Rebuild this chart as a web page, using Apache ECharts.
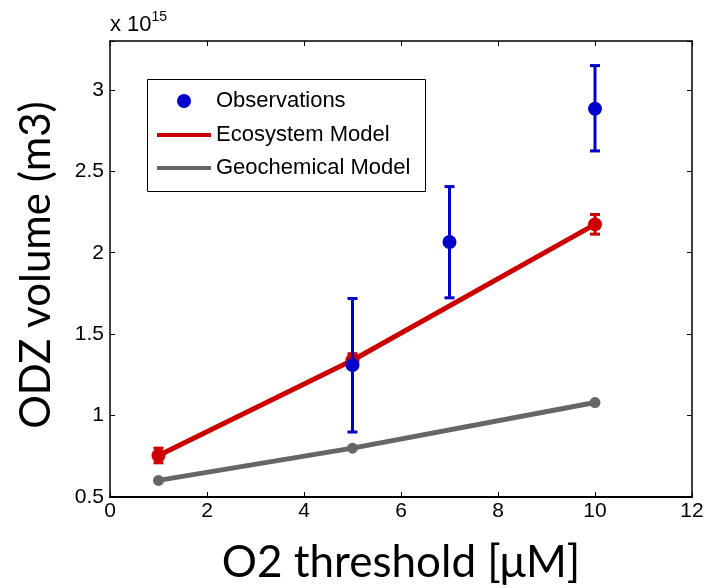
<!DOCTYPE html>
<html>
<head>
<meta charset="utf-8">
<script src="https://cdn.jsdelivr.net/npm/echarts@6/dist/echarts.min.js"></script>
<style>
  html, body { margin: 0; padding: 0; background: #fff; }
  #chart-1 { width: 704px; height: 588px; }
</style>
</head>
<body>
<div id="chart-1"></div>
<script>
// values in units of 1e15 m3
const obsX = [5, 7, 10];
const obsY = [1.31, 2.066, 2.884];
const obsLow = [0.899, 1.723, 2.625];
const obsHigh = [1.719, 2.406, 3.149];

const ecoX = [1, 5, 10];
const ecoY = [0.755, 1.34, 2.174];
const ecoLow = [0.71, 1.30, 2.114];
const ecoHigh = [0.80, 1.38, 2.235];

const geoX = [1, 5, 10];
const geoY = [0.602, 0.80, 1.08];

const xTicks = ['0', '2', '4', '6', '8', '10', '12'];
const yTicks = ['0.5', '1', '1.5', '2', '2.5', '3'];

const BLUE = '#0000cc', RED = '#cc0000', GREY = '#666666';
const tickFont = { fontFamily: 'Arial', fontSize: 21, color: '#000' };
const legendFont = { fontFamily: 'Arial', fontSize: 22, color: '#000' };

function errorBars(xs, lo, hi, color, width, capW, z) {
    return {
        type: 'custom',
        z: z,
        silent: true,
        data: xs.map((x, i) => [x, lo[i], hi[i]]),
        renderItem: function (params, api) {
            const a = api.coord([api.value(0), api.value(1)]);
            const b = api.coord([api.value(0), api.value(2)]);
            const st = { stroke: color, lineWidth: width };
            return {
                type: 'group',
                children: [
                    { type: 'line', shape: { x1: a[0], y1: a[1], x2: b[0], y2: b[1] }, style: st },
                    { type: 'line', shape: { x1: a[0] - capW / 2, y1: a[1], x2: a[0] + capW / 2, y2: a[1] }, style: st },
                    { type: 'line', shape: { x1: b[0] - capW / 2, y1: b[1], x2: b[0] + capW / 2, y2: b[1] }, style: st }
                ]
            };
        }
    };
}

const TheChart = echarts.init(document.getElementById('chart-1'));

TheChart.setOption({
    animation: false,
    grid: { left: 110, right: 12, top: 41, bottom: 91, containLabel: false, outerBoundsMode: 'none' },
    xAxis: [{
        type: 'value', min: 0, max: 12, interval: 2,
        name: 'O2 threshold [μM]', nameLocation: 'middle', nameGap: 44,
        nameTextStyle: { fontFamily: 'Lato', fontSize: 44, color: '#000' },
        axisLine: { onZero: false, lineStyle: { color: '#000', width: 2 } },
        axisTick: { inside: true, length: 5, lineStyle: { color: '#000' } },
        axisLabel: Object.assign({ margin: 4, formatter: v => xTicks[v / 2] }, tickFont),
        splitLine: { show: false }
    }, {
        type: 'value', min: 0, max: 12, interval: 2, position: 'top',
        axisLine: { show: true, onZero: false, lineStyle: { color: '#000', width: 1.5 } },
        axisTick: { show: true, inside: true, length: 5, lineStyle: { color: '#000' } },
        axisLabel: { show: false }, splitLine: { show: false }
    }],
    yAxis: [{
        type: 'value', min: 0.5, max: 3.3, interval: 0.5,
        name: 'ODZ volume (m3)', nameLocation: 'middle', nameGap: 53, nameRotate: 90,
        nameTextStyle: { fontFamily: 'Lato', fontSize: 42, color: '#000', padding: [0, 0, 0, 8] },
        axisLine: { onZero: false, lineStyle: { color: '#000', width: 1.5 } },
        axisTick: { inside: true, length: 5, lineStyle: { color: '#000' } },
        axisLabel: Object.assign({ margin: 6, formatter: v => yTicks[Math.round((v - 0.5) / 0.5)] || '' }, tickFont),
        splitLine: { show: false }
    }, {
        type: 'value', min: 0.5, max: 3.3, interval: 0.5, position: 'right',
        axisLine: { show: true, onZero: false, lineStyle: { color: '#000', width: 1.5 } },
        axisTick: { show: true, inside: true, length: 5, lineStyle: { color: '#000' } },
        axisLabel: { show: false }, splitLine: { show: false }
    }],
    legend: [{
        data: [{ name: 'Observations', icon: 'circle' }],
        orient: 'vertical', left: 177, top: 90, padding: 0, z: 10,
        itemWidth: 54, itemHeight: 14,
        textStyle: Object.assign({ lineHeight: 22 }, legendFont)
    }, {
        data: [{ name: 'Ecosystem Model', icon: 'rect' }, { name: 'Geochemical Model', icon: 'rect' }],
        orient: 'vertical', left: 157, top: 124, padding: 0, itemGap: 11, z: 10,
        itemWidth: 54, itemHeight: 4,
        textStyle: Object.assign({ lineHeight: 22 }, legendFont)
    }],
    graphic: [{
        type: 'rect', left: 147, top: 79, z: 5,
        shape: { width: 278, height: 112 },
        style: { fill: '#fff', stroke: '#000', lineWidth: 1 }
    }, {
        type: 'text', left: 110, top: 10, z: 10,
        style: {
            text: '{a|x 10}{b|15}',
            rich: {
                a: { fontFamily: 'Arial', fontSize: 22, color: '#000', verticalAlign: 'bottom', lineHeight: 26 },
                b: { fontFamily: 'Arial', fontSize: 14, color: '#000', verticalAlign: 'top', lineHeight: 26 }
            }
        }
    }],
    series: [{
        name: 'Geochemical Model', type: 'line', z: 2,
        data: geoX.map((x, i) => [x, geoY[i]]),
        symbol: 'circle', symbolSize: 11,
        lineStyle: { color: GREY, width: 5 }, itemStyle: { color: GREY }
    },
    errorBars(ecoX, ecoLow, ecoHigh, RED, 3, 10, 3),
    {
        name: 'Ecosystem Model', type: 'line', z: 3,
        data: ecoX.map((x, i) => [x, ecoY[i]]),
        symbol: 'circle', symbolSize: 14,
        lineStyle: { color: RED, width: 5 }, itemStyle: { color: RED }
    },
    errorBars(obsX, obsLow, obsHigh, BLUE, 3, 10, 4),
    {
        name: 'Observations', type: 'scatter', z: 4,
        data: obsX.map((x, i) => [x, obsY[i]]),
        symbol: 'circle', symbolSize: 14,
        itemStyle: { color: BLUE, opacity: 1 }
    }]
});
</script>
</body>
</html>
